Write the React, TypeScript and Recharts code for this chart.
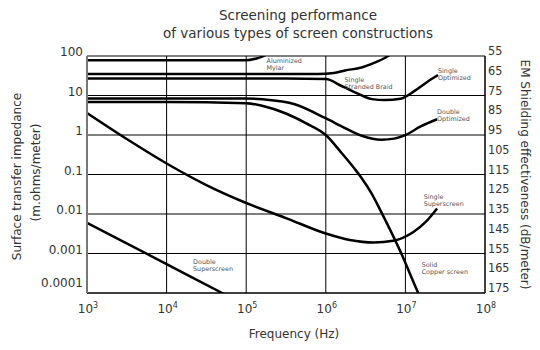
import React from 'react';
import { LineChart, Line, XAxis, YAxis, CartesianGrid, ReferenceDot, Label } from 'recharts';

const FONT = '"DejaVu Sans", "Liberation Sans", sans-serif';
const NARROW = '"Liberation Sans Narrow", "DejaVu Sans Condensed", "Liberation Sans", sans-serif';
const TEXT = '#333';

// Axis ticks
const frequencyTicks = [1e3, 1e4, 1e5, 1e6, 1e7, 1e8];
const impedanceTicks = [0.0001, 0.001, 0.01, 0.1, 1, 10, 100];
const impedanceTickLabels = ['0.0001', '0.001', '0.01', '0.1', '1', '10', '100'];
const shieldingTicks = [55, 65, 75, 85, 95, 105, 115, 125, 135, 145, 155, 165, 175];

// Series (frequency in Hz, surface transfer impedance in m.ohms/meter)
const mylarHz = [1e3, 1e4, 1e5, 1.3e5, 1.66e5, 2.2e5];
const mylarZ = [78, 78, 78, 85, 100, 160];

const braidHz = [1e3, 1e4, 1e5, 8e5, 1.26e6, 1.74e6, 2.8e6, 4.1e6, 5.5e6, 7.1e6, 1e7];
const braidZ = [35, 35, 35, 35, 37, 43, 51, 68, 89, 126, 250];

const singleOptHz = [1e3, 1e4, 1e5, 3.2e5, 1e6, 1.58e6, 2.57e6, 3.8e6, 5.5e6, 8.7e6, 1.29e7, 1.9e7, 2.57e7];
const singleOptZ = [27, 27, 27, 27, 26, 17.4, 11, 8.1, 7.7, 8.3, 12.9, 22.4, 33];

const doubleOptHz = [1e3, 1e4, 1e5, 1.62e5, 4.07e5, 9.8e5, 1.74e6, 2.82e6, 5e6, 7.2e6, 9.8e6, 1.58e7, 2.5e7];
const doubleOptZ = [8.4, 8.4, 8.4, 8.0, 6.0, 2.7, 1.5, 0.96, 0.76, 0.81, 0.98, 1.67, 2.5];

const copperHz = [1e3, 1e4, 1e5, 1.58e5, 3.16e5, 5.6e5, 1e6, 1.58e6, 2.3e6, 2.8e6, 3.8e6, 5e6, 8.7e6, 1.45e7, 2e7];
const copperZ = [6.8, 6.8, 6.4, 5.5, 3.5, 2.0, 1.0, 0.35, 0.14, 0.083, 0.032, 0.011, 0.0011, 0.0001, 0.000025];

const singleSuperHz = [1e3, 3.16e3, 1e4, 3.16e4, 1e5, 3.16e5, 1e6, 2e6, 4e6, 7e6, 1.26e7, 1.8e7, 2.5e7];
const singleSuperZ = [3.6, 0.79, 0.19, 0.054, 0.019, 0.0079, 0.0032, 0.0022, 0.0019, 0.0021, 0.0035, 0.0063, 0.0138];

const doubleSuperHz = [1e3, 1e4, 5e4, 1e5];
const doubleSuperZ = [0.006, 0.00054, 0.0001, 0.000049];

// Curve annotations (anchor in data units)
const noteHz = [1.8e5, 1.72e6, 2.57e7, 2.5e7, 1.7e7, 1.6e7, 2.15e4];
const noteZ = [76, 24.5, 41.7, 3.9, 0.027, 0.00053, 0.00062];
const noteLines = [
  ['Aluminized', 'Mylar'],
  ['Single', 'Stranded Braid'],
  ['Single', 'Optimized'],
  ['Double', 'Optimized'],
  ['Single', 'Superscreen'],
  ['Solid', 'Copper screen'],
  ['Double', 'Superscreen'],
];

const zip = (hz: number[], z: number[]) => hz.map((f, i) => ({ f, z: z[i] }));

const series = [
  { name: 'Aluminized Mylar', data: zip(mylarHz, mylarZ) },
  { name: 'Single Stranded Braid', data: zip(braidHz, braidZ) },
  { name: 'Single Optimized', data: zip(singleOptHz, singleOptZ) },
  { name: 'Double Optimized', data: zip(doubleOptHz, doubleOptZ) },
  { name: 'Solid Copper screen', data: zip(copperHz, copperZ) },
  { name: 'Single Superscreen', data: zip(singleSuperHz, singleSuperZ) },
  { name: 'Double Superscreen', data: zip(doubleSuperHz, doubleSuperZ) },
];

// The right-hand dB scale spans the same plot height as the impedance decades
const shieldingScale = [
  { f: frequencyTicks[0], db: shieldingTicks[0] },
  { f: frequencyTicks[frequencyTicks.length - 1], db: shieldingTicks[shieldingTicks.length - 1] },
];

const XTick = (p: any) => {
  const exp = Math.round(Math.log10(p.payload.value));
  return (
    <text x={p.x + 1} y={p.y} dy={20} textAnchor="middle" fontFamily={FONT} fontSize={12} fill={TEXT}>
      <tspan>10</tspan>
      <tspan dy={-5} fontSize={8}>{exp}</tspan>
    </text>
  );
};

const LeftTick = (p: any) => {
  const i = impedanceTicks.indexOf(p.payload.value);
  return (
    <text x={p.x - 4} y={p.y} dy={i === 0 ? -6 : 0} textAnchor="end" fontFamily={FONT} fontSize={12} fill={TEXT}>
      {impedanceTickLabels[i] ?? String(p.payload.value)}
    </text>
  );
};

const RightTick = (p: any) => (
  <text x={p.x + 3} y={p.y} dy={-1} textAnchor="start" fontFamily={NARROW} fontSize={12.5} fill={TEXT}>
    {p.payload.value}
  </text>
);

const LeftTitle = (p: any) => {
  const vb = p.viewBox || { x: 0, y: 56, width: 87, height: 237 };
  const cy = vb.y + vb.height / 2;
  const x1 = vb.x + 21;
  const x2 = vb.x + 40;
  return (
    <g fontFamily={FONT} fontSize={12} fill={TEXT}>
      <text x={x1} y={cy + 2} textAnchor="middle" transform={`rotate(-90 ${x1} ${cy + 2})`}>
        Surface transfer impedance
      </text>
      <text x={x2} y={cy - 2} textAnchor="middle" transform={`rotate(-90 ${x2} ${cy - 2})`}>
        (m.ohms/meter)
      </text>
    </g>
  );
};

const RightTitle = (p: any) => {
  const vb = p.viewBox || { x: 485, y: 56, width: 55, height: 237 };
  const cy = vb.y + vb.height / 2;
  const x = vb.x + 35.5;
  return (
    <text x={x} y={cy} textAnchor="middle" transform={`rotate(90 ${x} ${cy})`} fontFamily={FONT} fontSize={12} fill={TEXT}>
      EM Shielding effectiveness (dB/meter)
    </text>
  );
};

const BottomTitle = (p: any) => {
  const vb = p.viewBox || { x: 87, y: 293, width: 398, height: 57 };
  return (
    <text x={vb.x + vb.width / 2 + 8} y={vb.y + 44.5} textAnchor="middle" fontFamily={FONT} fontSize={12} fill={TEXT}>
      Frequency (Hz)
    </text>
  );
};

const makeNote = (lines: string[]) => (p: any) => {
  const vb = p.viewBox || { x: 0, y: 0 };
  return (
    <text x={vb.x} y={vb.y} fontFamily={FONT} fontSize={6.4} fill="#555">
      {lines.map((l, i) => (
        <tspan key={i} x={vb.x} dy={i === 0 ? '0.35em' : 7}>
          {l}
        </tspan>
      ))}
    </text>
  );
};

export default function App() {
  return (
    <div style={{ position: 'absolute', left: 0, top: 0, width: 540, height: 350, background: '#fff', overflow: 'hidden' }}>
      <LineChart width={540} height={350} margin={{ top: 56, right: 0, bottom: 0, left: 0 }}>
        <CartesianGrid stroke="#000" strokeWidth={1} />
        <XAxis
          type="number"
          dataKey="f"
          scale="log"
          domain={[1e3, 1e8]}
          ticks={frequencyTicks}
          allowDataOverflow
          height={57}
          tickSize={0}
          tickMargin={0}
          tick={<XTick />}
          axisLine={{ stroke: '#000' }}
          tickLine={false}
        >
          <Label content={<BottomTitle />} />
        </XAxis>
        <YAxis
          type="number"
          scale="log"
          domain={[0.0001, 100]}
          ticks={impedanceTicks}
          allowDataOverflow
          width={87}
          tickSize={0}
          tickMargin={0}
          tick={<LeftTick />}
          axisLine={{ stroke: '#777', strokeWidth: 2 }}
          tickLine={false}
        >
          <Label content={<LeftTitle />} />
        </YAxis>
        <YAxis
          yAxisId="right"
          orientation="right"
          type="number"
          dataKey="db"
          domain={[55, 175]}
          reversed
          allowDataOverflow
          ticks={shieldingTicks}
          interval={0}
          width={55}
          tickSize={0}
          tickMargin={0}
          tick={<RightTick />}
          axisLine={{ stroke: '#000' }}
          tickLine={false}
        >
          <Label content={<RightTitle />} />
        </YAxis>
        <Line
          yAxisId="right"
          data={shieldingScale}
          dataKey="db"
          stroke="none"
          dot={false}
          activeDot={false}
          legendType="none"
          isAnimationActive={false}
        />
        {series.map((s) => (
          <Line
            key={s.name}
            name={s.name}
            data={s.data}
            dataKey="z"
            type="monotone"
            stroke="#000"
            strokeWidth={2.5}
            dot={false}
            activeDot={false}
            isAnimationActive={false}
          />
        ))}
        {noteLines.map((lines, i) => (
          <ReferenceDot
            key={lines.join(' ')}
            x={noteHz[i]}
            y={noteZ[i]}
            r={0}
            fill="none"
            stroke="none"
            ifOverflow="visible"
            label={makeNote(lines)}
          />
        ))}
      </LineChart>
      <div
        style={{
          position: 'absolute',
          left: 56,
          top: 6,
          width: 484,
          textAlign: 'center',
          fontFamily: FONT,
          fontSize: 13.5,
          lineHeight: '18px',
          color: TEXT,
        }}
      >
        Screening performance
        <br />
        of various types of screen constructions
      </div>
    </div>
  );
}
